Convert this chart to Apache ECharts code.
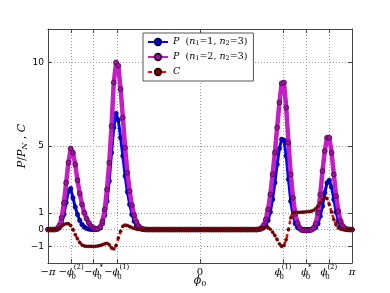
<!DOCTYPE html>
<html><head><meta charset="utf-8">
<script src="https://cdn.jsdelivr.net/npm/echarts@6/dist/echarts.min.js"></script>
<style>html,body{margin:0;padding:0;background:#fff}#c{width:390px;height:293px}</style>
</head><body><div id="c"></div>
<script>
// phase grid: evenly spaced samples over [-pi, pi]
const phiMin = -Math.PI, phiMax = Math.PI, nPts = 135;

// P / P_N for (n1=1, n2=3)
const P13 = [
 0, 0, 0, 0, 0.02, 0.1, 0.35, 0.9, 1.6, 2.3,
 2.45, 1.9, 1.35, 0.9, 0.55, 0.3, 0.15, 0.07, 0.03, 0.01,
 0, 0, 0.02, 0.1, 0.35, 0.85, 1.7, 2.9, 4.6, 6.1,
 6.95, 6.55, 5.5, 4.4, 3.2, 2.25, 1.5, 0.9, 0.5, 0.25,
 0.1, 0.04, 0.01, 0, 0, 0, 0, 0, 0, 0,
 0, 0, 0, 0, 0, 0, 0, 0, 0, 0,
 0, 0, 0, 0, 0, 0, 0, 0, 0, 0,
 0, 0, 0, 0, 0, 0, 0, 0, 0, 0,
 0, 0, 0, 0, 0, 0, 0, 0, 0, 0,
 0, 0, 0, 0.01, 0.04, 0.1, 0.25, 0.55, 1.05, 1.8,
 2.8, 3.9, 4.85, 5.4, 5.35, 4.4, 3.0, 1.7, 0.85, 0.35,
 0.12, 0.04, 0.01, 0, 0, 0, 0.01, 0.04, 0.12, 0.35,
 0.8, 1.4, 2.2, 2.8, 2.95, 2.55, 1.8, 1.05, 0.5, 0.2,
 0.07, 0.02, 0, 0, 0
];
// P / P_N for (n1=2, n2=3)
const P23 = [
 0, 0, 0, 0, 0.05, 0.25, 0.7, 1.6, 2.8, 4.0,
 4.85, 4.6, 3.9, 2.95, 2.15, 1.5, 1.0, 0.65, 0.4, 0.2,
 0.1, 0.05, 0.05, 0.15, 0.5, 1.2, 2.4, 4.0, 6.2, 8.8,
 10.0, 9.8, 8.4, 6.7, 4.9, 3.4, 2.3, 1.45, 0.85, 0.45,
 0.2, 0.08, 0.03, 0.01, 0, 0, 0, 0, 0, 0,
 0, 0, 0, 0, 0, 0, 0, 0, 0, 0,
 0, 0, 0, 0, 0, 0, 0, 0, 0, 0,
 0, 0, 0, 0, 0, 0, 0, 0, 0, 0,
 0, 0, 0, 0, 0, 0, 0, 0, 0, 0,
 0, 0, 0, 0.02, 0.08, 0.25, 0.6, 1.2, 2.1, 3.3,
 4.6, 6.1, 7.6, 8.75, 8.8, 7.3, 5.2, 3.3, 1.9, 0.95,
 0.4, 0.1, -0.04, -0.05, -0.05, -0.05, -0.02, 0.1, 0.35, 1.0,
 2.1, 3.5, 4.7, 5.5, 5.5, 4.6, 3.3, 2.0, 1.1, 0.5,
 0.2, 0.07, 0.02, 0, 0
];
// C
const Cv = [
 0, 0, 0, 0, 0.03, 0.1, 0.2, 0.3, 0.35, 0.35,
 0.25, 0.0, -0.3, -0.55, -0.78, -0.92, -0.98, -1.0, -1.0, -1.0,
 -1.0, -1.0, -0.98, -0.95, -0.9, -0.85, -0.82, -0.9, -1.1, -1.15,
 -0.95, -0.5, -0.1, 0.2, 0.27, 0.24, 0.18, 0.12, 0.07, 0.03,
 0.01, 0, 0, 0, 0, 0, 0, 0, 0, 0,
 0, 0, 0, 0, 0, 0, 0, 0, 0, 0,
 0, 0, 0, 0, 0, 0, 0, 0, 0, 0,
 0, 0, 0, 0, 0, 0, 0, 0, 0, 0,
 0, 0, 0, 0, 0, 0, 0, 0, 0, 0,
 0, 0, 0.01, 0.04, 0.08, 0.12, 0.15, 0.12, 0.02, -0.15,
 -0.35, -0.6, -0.85, -1.0, -0.95, -0.6, 0.0, 0.7, 1.0, 1.03,
 1.03, 1.03, 1.04, 1.05, 1.06, 1.08, 1.1, 1.15, 1.25, 1.4,
 1.6, 1.8, 1.93, 1.85, 1.5, 1.05, 0.6, 0.28, 0.1, 0.03,
 0, 0, 0, 0, 0
];

const xTickValues = [-Math.PI, -2.665, -2.20, -1.72, 0, 1.72, 2.20, 2.665, Math.PI];
const xTickLabels = [
 '{r|−}{m|π}',
 '{r|−}{m|ϕ}{sub|0}{sup|(2)}',
 '{r|−}{m|ϕ}{sub|0}{sup|*}',
 '{r|−}{m|ϕ}{sub|0}{sup|(1)}',
 '{r|0}',
 '{m|ϕ}{sub|0}{sup|(1)}',
 '{m|ϕ}{sub|0}{sup|*}',
 '{m|ϕ}{sub|0}{sup|(2)}',
 '{m|π}'
];
const yTickValues = [-1, 0, 1, 5, 10];
const yTickLabels = ['−1', '0', '1', '5', '10'];

const seriesNames = ['P1', 'P2', 'C'];
const legendLabels = {
 P1: '{i|P}{n|  (}{i|n}{s|1}{n|=1, }{i|n}{s|2}{n|=3)}',
 P2: '{i|P}{n|  (}{i|n}{s|1}{n|=2, }{i|n}{s|2}{n|=3)}',
 C: '{i|C}'
};

const step = (phiMax - phiMin) / (nPts - 1);
const xs = P13.map((_, i) => phiMin + i * step);
const pairs = arr => arr.map((v, i) => [xs[i], v]);

function nearestIdx(vals, v) {
  let best = 0;
  vals.forEach((t, i) => { if (Math.abs(t - v) < Math.abs(vals[best] - v)) best = i; });
  return best;
}

const SERIF = 'DejaVu Serif';
const mathRich = {
  r: { fontFamily: SERIF, fontSize: 10, color: '#000', lineHeight: 17 },
  m: { fontFamily: SERIF, fontStyle: 'italic', fontSize: 10, color: '#000', lineHeight: 17 },
  sub: { fontFamily: SERIF, fontSize: 7, color: '#000', verticalAlign: 'bottom', lineHeight: 7, width: 0, align: 'left' },
  sup: { fontFamily: SERIF, fontSize: 7, color: '#000', verticalAlign: 'top', lineHeight: 7 }
};

const gridLine = { show: true, lineStyle: { color: '#9a9a9a', type: [1, 2], width: 1 } };
const axLine = { show: true, onZero: false, lineStyle: { color: '#444', width: 1 } };

const chart = echarts.init(document.getElementById('c'), null, { renderer: 'canvas' });
chart.setOption({
  animation: false,
  backgroundColor: '#fff',
  grid: { left: 48, right: 38, top: 29, bottom: 30, containLabel: false, outerBoundsMode: 'none' },
  legend: {
    data: seriesNames,
    orient: 'vertical',
    left: 143, top: 33,
    itemWidth: 20, itemHeight: 8, itemGap: 5,
    padding: [4, 6, 4, 4],
    backgroundColor: '#fff',
    borderColor: '#555', borderWidth: 1,
    formatter: n => legendLabels[n],
    textStyle: {
      fontFamily: SERIF, fontSize: 9.5, color: '#000',
      rich: {
        i: { fontFamily: SERIF, fontStyle: 'italic', fontSize: 9.5, color: '#000', lineHeight: 10 },
        n: { fontFamily: SERIF, fontSize: 9.5, color: '#000', lineHeight: 10 },
        s: { fontFamily: SERIF, fontSize: 6.5, color: '#000', verticalAlign: 'bottom', lineHeight: 6 }
      }
    }
  },
  xAxis: [{
    type: 'value', min: phiMin, max: phiMax, position: 'bottom',
    axisLine: axLine,
    axisTick: { show: true, inside: true, length: 4, customValues: xTickValues, lineStyle: { color: '#444' } },
    axisLabel: {
      customValues: xTickValues, margin: 1, hideOverlap: false,
      formatter: v => xTickLabels[nearestIdx(xTickValues, v)],
      rich: mathRich
    },
    splitLine: gridLine,
    name: '{m|ϕ}{sub|0}', nameLocation: 'middle', nameGap: 11, nameMoveOverlap: false,
    nameTextStyle: { rich: {
      m: { fontFamily: SERIF, fontStyle: 'italic', fontSize: 11, color: '#000', lineHeight: 14 },
      sub: { fontFamily: SERIF, fontSize: 8, color: '#000', verticalAlign: 'bottom', lineHeight: 8 }
    } }
  }, {
    type: 'value', min: phiMin, max: phiMax, position: 'top',
    axisLine: axLine,
    axisTick: { show: true, inside: true, length: 4, customValues: xTickValues, lineStyle: { color: '#444' } },
    axisLabel: { show: false }, splitLine: { show: false }
  }],
  yAxis: [{
    type: 'value', min: -2, max: 12, position: 'left',
    axisLine: axLine,
    axisTick: { show: true, inside: true, length: 4, customValues: yTickValues, lineStyle: { color: '#444' } },
    axisLabel: {
      customValues: yTickValues, margin: 4,
      formatter: v => yTickLabels[nearestIdx(yTickValues, v)],
      fontFamily: 'DejaVu Sans', fontSize: 9, color: '#000'
    },
    splitLine: gridLine,
    name: '{i|P}{n|/}{i|P}{s|N}{n| , }{i|C}', nameLocation: 'middle', nameRotate: 90, nameGap: 19, nameMoveOverlap: false,
    nameTextStyle: { rich: {
      i: { fontFamily: SERIF, fontStyle: 'italic', fontSize: 11, color: '#000', lineHeight: 14 },
      n: { fontFamily: SERIF, fontSize: 11, color: '#000', lineHeight: 14 },
      s: { fontFamily: SERIF, fontStyle: 'italic', fontSize: 8, color: '#000', verticalAlign: 'bottom', lineHeight: 8 }
    } }
  }, {
    type: 'value', min: -2, max: 12, position: 'right',
    axisLine: axLine,
    axisTick: { show: true, inside: true, length: 4, customValues: yTickValues, lineStyle: { color: '#444' } },
    axisLabel: { show: false }, splitLine: { show: false }
  }],
  series: [{
    name: 'P1', type: 'line', data: pairs(P13), xAxisIndex: 0, yAxisIndex: 0,
    symbol: 'circle', symbolSize: 4.5, showSymbol: true,
    lineStyle: { color: '#0000ff', width: 3 },
    itemStyle: { color: '#0000dd', borderColor: '#000040', borderWidth: 0.6 },
    emphasis: { disabled: true }, z: 2
  }, {
    name: 'P2', type: 'line', data: pairs(P23), xAxisIndex: 0, yAxisIndex: 0,
    symbol: 'circle', symbolSize: 5, showSymbol: true,
    lineStyle: { color: '#c41ec4', width: 4.5 },
    itemStyle: { color: '#a010a0', borderColor: '#300030', borderWidth: 0.6 },
    emphasis: { disabled: true }, z: 3
  }, {
    name: 'C', type: 'line', data: pairs(Cv), xAxisIndex: 0, yAxisIndex: 0,
    symbol: 'circle', symbolSize: 3.2, showSymbol: true,
    lineStyle: { color: '#ff0000', width: 2.5, type: [4, 3] },
    itemStyle: { color: '#7a0000', borderColor: '#300000', borderWidth: 0.4 },
    emphasis: { disabled: true }, z: 4
  }]
});
</script>
</body></html>
